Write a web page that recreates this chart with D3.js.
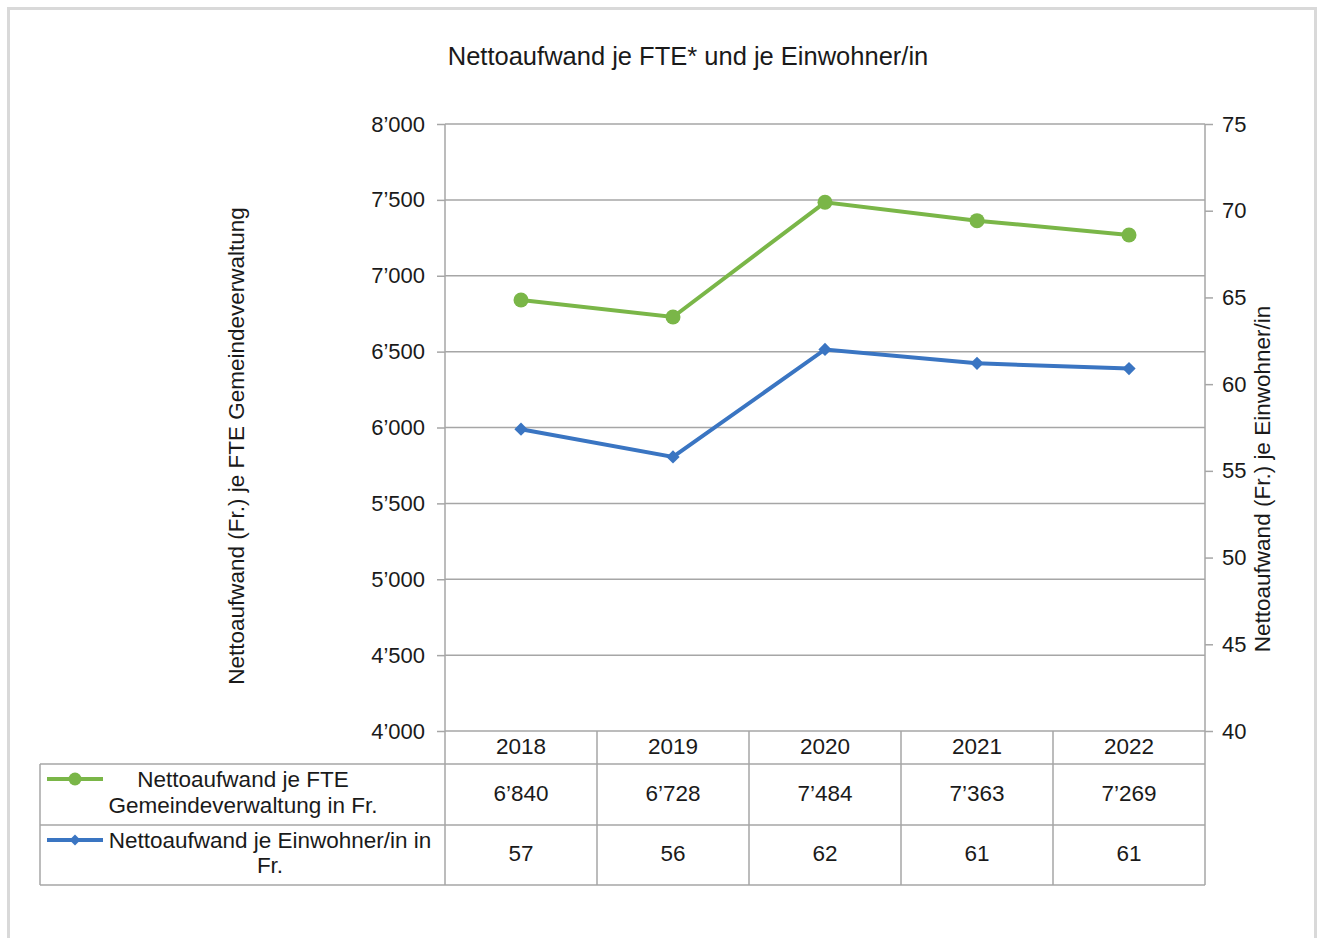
<!DOCTYPE html>
<html>
<head>
<meta charset="utf-8">
<script src="https://cdn.jsdelivr.net/npm/d3@7"></script>
<style>
	body { margin: 0; background: #fff; }
	svg text { font-family: "Liberation Sans", Arial, sans-serif; fill: #1a1a1a; }
</style>
</head>
<body>
<div id="dataviz_area"></div>
<script>
// data
const years = ["2018", "2019", "2020", "2021", "2022"];
const fte_values = [6840, 6728, 7484, 7363, 7269];
const einwohner_values = [57.4, 55.8, 62.0, 61.2, 60.9];
const left_ticks = [4000, 4500, 5000, 5500, 6000, 6500, 7000, 7500, 8000];
const right_ticks = [40, 45, 50, 55, 60, 65, 70, 75];

const title = "Nettoaufwand je FTE* und je Einwohner/in";
const left_title = "Nettoaufwand (Fr.) je FTE Gemeindeverwaltung";
const right_title = "Nettoaufwand (Fr.) je Einwohner/in";

let canvas_width = 1324;
let canvas_height = 938;

make_chart();

function make_chart() {
	const green = "#7ab648",
		blue = "#3a75c2",
		grid = "#a6a6a6";

	// plot area in pixels
	const plot = {left: 445, right: 1205, top: 124, bottom: 731};
	// table rows below the plot
	const rows = {years: 731, r1: 764, r2: 825, end: 885, left: 40};

	// swiss thousands separator
	const fmt = d3.formatLocale({decimal: ".", thousands: "\u2019", grouping: [3], currency: ["", ""]}).format(",d");
	const fmtRound = d3.format(".0f");

	const svg = d3.select("#dataviz_area")
		.append("svg")
			.attr("width", canvas_width)
			.attr("height", canvas_height);

	// outer frame
	svg.append("rect")
		.attr("x", 8.5).attr("y", 8.5)
		.attr("width", 1307).attr("height", 960)
		.attr("fill", "none")
		.attr("stroke", "#d9d9d9")
		.attr("stroke-width", 3);

	svg.append("text")
		.attr("x", 688).attr("y", 65)
		.attr("text-anchor", "middle")
		.style("font-size", "25.5px")
		.text(title);

	// scales
	const x = d3.scaleBand()
		.domain(years)
		.range([plot.left, plot.right]);
	const y = d3.scaleLinear()
		.domain([4000, 8000])
		.range([plot.bottom, plot.top]);
	const y2 = d3.scaleLinear()
		.domain([40, 75])
		.range([plot.bottom, plot.top]);

	// gridlines
	svg.append("g")
		.selectAll("line")
		.data(left_ticks)
		.join("line")
			.attr("x1", plot.left).attr("x2", plot.right)
			.attr("y1", d => y(d)).attr("y2", d => y(d))
			.attr("stroke", grid)
			.attr("stroke-width", 1.5);

	// left axis
	const axL = svg.append("g")
		.attr("transform", "translate(" + plot.left + ",0)")
		.call(d3.axisLeft(y).tickValues(left_ticks).tickFormat(fmt).tickSize(8).tickPadding(12));
	axL.select(".domain").remove();
	axL.selectAll("line").attr("stroke", grid).attr("stroke-width", 1.5);
	axL.selectAll("text").style("font-size", "22px").attr("fill", "#1a1a1a");

	// right axis
	const axR = svg.append("g")
		.attr("transform", "translate(" + plot.right + ",0)")
		.call(d3.axisRight(y2).tickValues(right_ticks).tickSize(8).tickPadding(9));
	axR.select(".domain").remove();
	axR.selectAll("line").attr("stroke", grid).attr("stroke-width", 1.5);
	axR.selectAll("text").style("font-size", "22px").attr("fill", "#1a1a1a");

	// axis titles
	svg.append("text")
		.attr("transform", "translate(244,446) rotate(-90)")
		.attr("text-anchor", "middle")
		.style("font-size", "22.5px")
		.text(left_title);
	svg.append("text")
		.attr("transform", "translate(1270,479) rotate(-90)")
		.attr("text-anchor", "middle")
		.style("font-size", "22.5px")
		.text(right_title);

	// data table
	const table = svg.append("g")
		.attr("stroke", grid)
		.attr("stroke-width", 1.5);
	[rows.r1, rows.r2, rows.end].forEach(r => {
		table.append("line")
			.attr("x1", rows.left).attr("x2", plot.right)
			.attr("y1", r).attr("y2", r);
	});
	table.append("line")
		.attr("x1", rows.left).attr("x2", rows.left)
		.attr("y1", rows.r1).attr("y2", rows.end);
	// vertical lines: axes extend down through the table
	table.selectAll("line.col")
		.data(years.map(d => x(d)).concat([plot.right]))
		.join("line")
			.attr("class", "col")
			.attr("x1", d => d).attr("x2", d => d)
			.attr("y1", (d, i) => (i == 0 || i == years.length) ? plot.top : rows.years)
			.attr("y2", rows.end);

	const cx = d => x(d) + x.bandwidth() / 2;

	svg.append("g")
		.selectAll("text")
		.data(years)
		.join("text")
			.attr("x", cx)
			.attr("y", (rows.years + rows.r1) / 2 + 6.5)
			.attr("text-anchor", "middle")
			.style("font-size", "22.5px")
			.text(d => d);

	svg.append("g")
		.selectAll("text")
		.data(fte_values)
		.join("text")
			.attr("x", (d, i) => cx(years[i]))
			.attr("y", (rows.r1 + rows.r2) / 2 + 6.5)
			.attr("text-anchor", "middle")
			.style("font-size", "22.5px")
			.text(d => fmt(d));

	svg.append("g")
		.selectAll("text")
		.data(einwohner_values)
		.join("text")
			.attr("x", (d, i) => cx(years[i]))
			.attr("y", (rows.r2 + rows.end) / 2 + 6)
			.attr("text-anchor", "middle")
			.style("font-size", "22.5px")
			.text(d => fmtRound(d));

	const diamond = d3.symbol().type(d3.symbolSquare).size(88);

	// legend keys in the table
	const key = (g, ky, color, is_circle) => {
		g.append("line")
			.attr("x1", 47).attr("x2", 103)
			.attr("y1", ky).attr("y2", ky)
			.attr("stroke", color)
			.attr("stroke-width", 4);
		if (is_circle) {
			g.append("circle")
				.attr("cx", 75).attr("cy", ky)
				.attr("r", 6.5)
				.attr("fill", color);
		} else {
			g.append("path")
				.attr("transform", "translate(75," + ky + ") rotate(45)")
				.attr("d", d3.symbol().type(d3.symbolSquare).size(60))
				.attr("fill", color);
		}
	};
	const leg = svg.append("g");
	key(leg, 779, green, true);
	key(leg, 840, blue, false);

	const legText = (lines, lx, ly, gap) => {
		const t = leg.append("text")
			.attr("text-anchor", "middle")
			.style("font-size", "22.5px");
		lines.forEach((l, i) => {
			t.append("tspan").attr("x", lx).attr("y", ly + i * gap).text(l);
		});
	};
	legText(["Nettoaufwand je FTE", "Gemeindeverwaltung in Fr."], 243, 787, 26);
	legText(["Nettoaufwand je Einwohner/in in", "Fr."], 270, 848, 25);

	// series lines
	svg.append("path")
		.datum(fte_values)
		.attr("fill", "none")
		.attr("stroke", green)
		.attr("stroke-width", 4)
		.attr("d", d3.line()
			.x((d, i) => cx(years[i]))
			.y(d => y(d)));
	svg.append("g")
		.selectAll("circle")
		.data(fte_values)
		.join("circle")
			.attr("cx", (d, i) => cx(years[i]))
			.attr("cy", d => y(d))
			.attr("r", 7.5)
			.attr("fill", green);

	svg.append("path")
		.datum(einwohner_values)
		.attr("fill", "none")
		.attr("stroke", blue)
		.attr("stroke-width", 4)
		.attr("d", d3.line()
			.x((d, i) => cx(years[i]))
			.y(d => y2(d)));
	svg.append("g")
		.selectAll("path")
		.data(einwohner_values)
		.join("path")
			.attr("transform", (d, i) => "translate(" + cx(years[i]) + "," + y2(d) + ") rotate(45)")
			.attr("d", diamond)
			.attr("fill", blue);
}
</script>
</body>
</html>
